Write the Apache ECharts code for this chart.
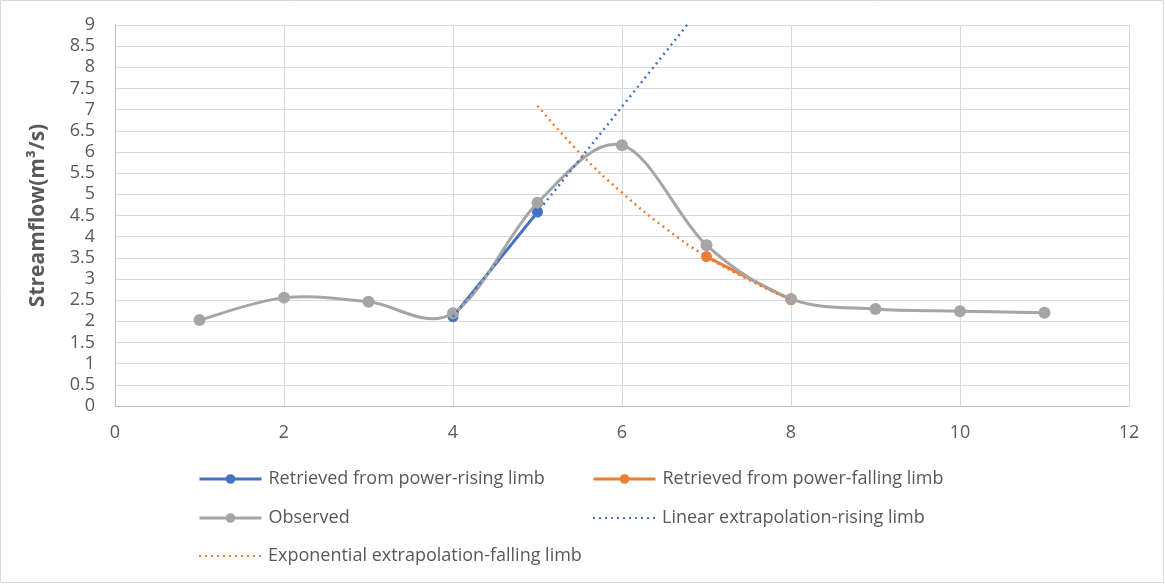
<!DOCTYPE html>
<html><head><meta charset="utf-8">
<script src="https://cdn.jsdelivr.net/npm/echarts@6/dist/echarts.min.js"></script>
<style>html,body{margin:0;padding:0;background:#fff}#c{width:1165px;height:584px}</style>
</head><body><div id="c"></div>
<script>
const obsX = [1,2,3,4,5,6,7,8,9,10,11];
const observed = [2.03,2.56,2.46,2.19,4.80,6.16,3.80,2.53,2.29,2.24,2.20];
const risingX = [4,5];
const rising = [2.11,4.58];
const fallingX = [7,8];
const falling = [3.53,2.51];
const linX = [4,5,6,6.77];
const linear = [2.11,4.58,7.07,9.0];
const expX = [5,5.5,6,6.5,7,7.5,8];
const expo = [7.09,5.98,5.04,4.22,3.53,2.98,2.51];
const xTicks = [0,2,4,6,8,10,12];
const yTicks = [0,0.5,1,1.5,2,2.5,3,3.5,4,4.5,5,5.5,6,6.5,7,7.5,8,8.5,9];

const pairs = (xs, ys) => xs.map((x,i)=>[x, ys[i]]);
const FONT = 'Open Sans';
const TXT = '#595959';
const GREY = '#A5A5A5', BLUE = '#4472C4', ORANGE = '#ED7D31';
const names = ['Retrieved from power-rising limb','Retrieved from power-falling limb','Observed','Linear extrapolation-rising limb','Exponential extrapolation-falling limb'];
const legendPos = [[198,470],[592,470],[198,509],[592,509],[198,547]];
const legendColors = [BLUE, ORANGE, GREY, BLUE, ORANGE];

// smooth curve through observed points (Catmull-Rom style bezier, like spreadsheet smoothing)
function smoothPath(api){
  const p = obsX.map((x,i)=>api.coord([x, observed[i]]));
  let d = 'M' + p[0][0] + ' ' + p[0][1];
  for (let i=0;i<p.length-1;i++){
    const p0 = p[Math.max(i-1,0)], p1 = p[i], p2 = p[i+1], p3 = p[Math.min(i+2,p.length-1)];
    const c1 = [p1[0]+(p2[0]-p0[0])/6, p1[1]+(p2[1]-p0[1])/6];
    const c2 = [p2[0]-(p3[0]-p1[0])/6, p2[1]-(p3[1]-p1[1])/6];
    d += ' C' + c1[0]+' '+c1[1]+' '+c2[0]+' '+c2[1]+' '+p2[0]+' '+p2[1];
  }
  return d;
}

const chart = echarts.init(document.getElementById('c'), null, {renderer:'canvas'});
chart.setOption({
  animation:false,
  backgroundColor:'#fff',
  textStyle:{fontFamily:FONT},
  graphic:[{type:'rect',shape:{x:0.5,y:0.5,width:1163,height:582},style:{fill:'none',stroke:'#d9d9d9',lineWidth:1},silent:true}],
  grid:{left:115,top:25,right:36,bottom:178,containLabel:false},
  legend: names.map((n,i)=>{
    const l = {
      data:[n], left:legendPos[i][0], top:legendPos[i][1],
      itemWidth:62, itemHeight:12,
      textStyle:{fontFamily:FONT,fontSize:18,color:TXT,padding:[0,0,0,2]},
      itemGap:0, padding:0
    };
    if (i===3 || i===4) l.itemStyle = {opacity:0};
    else l.lineStyle = {opacity:1, color:legendColors[i], width:3};
    return l;
  }),
  xAxis:{
    type:'value', min:0, max:12, interval:2,
    axisLine:{show:true,lineStyle:{color:'#bfbfbf',width:1}},
    axisTick:{show:false},
    splitLine:{show:true,lineStyle:{color:'#d9d9d9',width:1}},
    axisLabel:{color:TXT,fontSize:18,fontFamily:FONT,margin:18,
      formatter:v=>xTicks.includes(v)?String(v):''}
  },
  yAxis:{
    type:'value', min:0, max:9, interval:0.5,
    name:'Streamflow(m³/s)', nameLocation:'middle', nameGap:66, nameRotate:90,
    nameTextStyle:{color:TXT,fontSize:21,fontWeight:'bold',fontFamily:FONT},
    axisLine:{show:true,lineStyle:{color:'#bfbfbf',width:1}},
    axisTick:{show:false},
    splitLine:{show:true,lineStyle:{color:'#d9d9d9',width:1}},
    axisLabel:{color:TXT,fontSize:18,fontFamily:FONT,margin:20,
      formatter:v=>yTicks.includes(v)?String(v):''}
  },
  series:[
    {name:names[0],type:'line',data:pairs(risingX,rising),symbol:'circle',symbolSize:11,
     lineStyle:{color:BLUE,width:3},itemStyle:{color:BLUE},z:2},
    {name:names[1],type:'line',data:pairs(fallingX,falling),symbol:'circle',symbolSize:11,
     lineStyle:{color:ORANGE,width:3},itemStyle:{color:ORANGE},z:3},
    {name:'observed-curve',type:'custom',coordinateSystem:'cartesian2d',data:pairs(obsX,observed),
     encode:{x:0,y:1},z:4,silent:true,
     renderItem:(params, api)=>{
       if (params.dataIndex!==0) return null;
       return {type:'path',shape:{pathData:smoothPath(api)},
               style:{fill:'none',stroke:GREY,lineWidth:3,lineJoin:'round'}};
     }},
    {name:names[2],type:'line',data:pairs(obsX,observed),symbol:'circle',symbolSize:12,
     lineStyle:{color:GREY,width:3,opacity:0},itemStyle:{color:GREY},z:4},
    {name:names[3],type:'line',data:pairs(linX,linear),symbol:'none',showSymbol:false,
     lineStyle:{color:BLUE,width:2.5,type:[2,4]},itemStyle:{color:BLUE},z:5},
    {name:names[4],type:'line',data:pairs(expX,expo),symbol:'none',showSymbol:false,smooth:true,
     lineStyle:{color:ORANGE,width:2.5,type:[2,4]},itemStyle:{color:ORANGE},z:6}
  ]
});
</script></body></html>
